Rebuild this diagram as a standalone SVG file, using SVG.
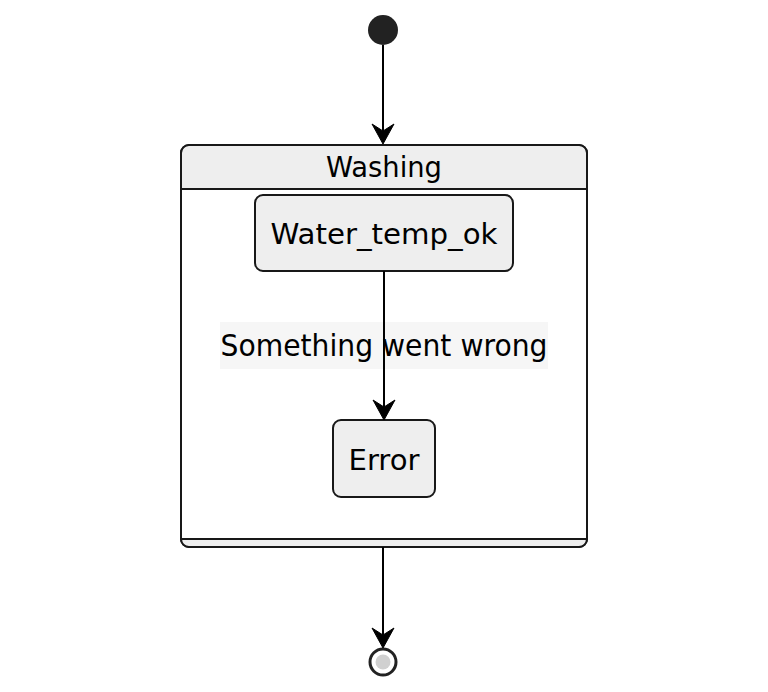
<svg xmlns="http://www.w3.org/2000/svg" width="768" height="692" viewBox="0 0 768 692">
<defs>
<style>
text{font-family:"DejaVu Sans","Liberation Sans",sans-serif;fill:#000;text-anchor:middle}
.st{fill:#eeeeee;stroke:#181818;stroke-width:2}
.ln{stroke:#000;stroke-width:2;fill:none}
.ah{fill:#000;stroke:#000;stroke-width:1;stroke-linejoin:miter}
</style>
</defs>
<rect width="768" height="692" fill="#fff"/>
<g id="start"><circle cx="383" cy="30" r="15" fill="#222"/></g>
<g id="Washing">
<rect x="181" y="145" width="406" height="402" rx="8" fill="#fff" stroke="#181818" stroke-width="2"/>
<path d="M182,189 V153 Q182,146 189,146 H579 Q586,146 586,153 V189 Z" fill="#eeeeee"/>
<path d="M182,539 H586 V540 Q586,546 579,546 H189 Q182,546 182,540 Z" fill="#eeeeee"/>
<rect x="181" y="145" width="406" height="402" rx="8" fill="none" stroke="#181818" stroke-width="2"/>
<line x1="181" y1="189" x2="587" y2="189" stroke="#181818" stroke-width="2"/>
<line x1="181" y1="539" x2="587" y2="539" stroke="#181818" stroke-width="2"/>
<text x="384" y="177" font-size="28.5" textLength="116" lengthAdjust="spacingAndGlyphs">Washing</text>
</g>
<g id="Water_temp_ok">
<rect class="st" x="255" y="195" width="258" height="76" rx="8"/>
<text x="384" y="244" font-size="28.5" textLength="227" lengthAdjust="spacingAndGlyphs">Water_temp_ok</text>
</g>
<g id="Error">
<rect class="st" x="333" y="420" width="102" height="77" rx="8"/>
<text x="384" y="470" font-size="28.5" textLength="71" lengthAdjust="spacingAndGlyphs">Error</text>
</g>
<g id="end">
<circle cx="383" cy="662" r="13" fill="#fff" stroke="#222" stroke-width="3"/>
<circle cx="383" cy="662" r="7.5" fill="#d0d0d0"/>
</g>
<g id="connectors">
<line class="ln" x1="383" y1="45" x2="383" y2="134"/>
<path class="ah" d="M383,144 L372,124 L383,131 L394,124 Z"/>
<rect x="220" y="322" width="328" height="47" fill="#f6f6f6"/>
<line class="ln" x1="384" y1="271" x2="384" y2="410"/>
<path class="ah" d="M384,420 L373,400 L384,407 L395,400 Z"/>
<text x="384" y="356" font-size="29.5" textLength="327" lengthAdjust="spacingAndGlyphs">Something went wrong</text>
<line class="ln" x1="383" y1="547" x2="383" y2="638"/>
<path class="ah" d="M383,648 L372,628 L383,635 L394,628 Z"/>
</g>
</svg>
